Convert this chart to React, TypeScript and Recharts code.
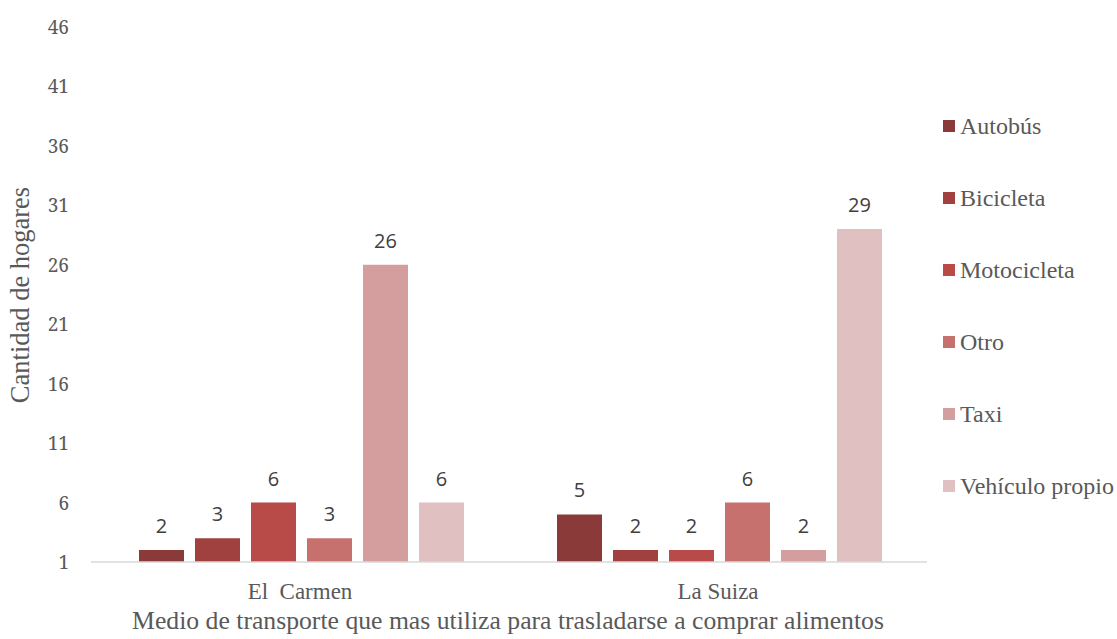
import { Bar, BarChart, LabelList, XAxis, YAxis } from 'recharts';

const categories = ['El  Carmen', 'La Suiza'];
const seriesNames = ['Autobús', 'Bicicleta', 'Motocicleta', 'Otro', 'Taxi', 'Vehículo propio'];
const autobus = [2, 5];
const bicicleta = [3, 2];
const motocicleta = [6, 2];
const otro = [3, 6];
const taxi = [26, 2];
const vehiculo = [6, 29];
const yTicks = [1, 6, 11, 16, 21, 26, 31, 36, 41, 46];

const colors = ['#8B3A3A', '#A0413F', '#B84A48', '#C6716E', '#D49E9E', '#E0C0C1'];
const keys = ['autobus', 'bicicleta', 'motocicleta', 'otro', 'taxi', 'vehiculo'];
const seriesValues = [autobus, bicicleta, motocicleta, otro, taxi, vehiculo];

const data = categories.map((name, i) => {
  const row: Record<string, string | number> = { name };
  keys.forEach((k, j) => {
    row[k] = seriesValues[j][i];
  });
  return row;
});

const serif = '"Liberation Serif", "Times New Roman", serif';
const tickSerif = '"Noto Serif", serif';
const sans = '"Open Sans", sans-serif';

const XTick = (props: any) => (
  <text
    x={props.x}
    y={props.y + 35}
    textAnchor="middle"
    fill="#595959"
    style={{ fontFamily: serif, fontSize: 23, whiteSpace: 'pre' }}
  >
    {props.payload.value}
  </text>
);

const YTick = (props: any) => (
  <text
    x={props.x}
    y={props.y + 7}
    textAnchor="end"
    fill="#595959"
    style={{ fontFamily: tickSerif, fontSize: 19 }}
  >
    {props.payload.value}
  </text>
);

const ValueLabel = (props: any) => (
  <text
    x={props.x + props.width / 2}
    y={props.y - 17}
    textAnchor="middle"
    fill="#404040"
    style={{ fontFamily: sans, fontSize: 20 }}
  >
    {props.value}
  </text>
);

function LegendBox() {
  return (
    <div
      style={{
        position: 'absolute',
        left: 943,
        top: 90,
        fontFamily: serif,
        fontSize: 24,
        color: '#595959',
      }}
    >
      {seriesNames.map((n, i) => (
        <div key={n} style={{ height: 72, display: 'flex', alignItems: 'center', whiteSpace: 'nowrap' }}>
          <span style={{ width: 12, height: 12, background: colors[i], display: 'inline-block', marginRight: 5 }} />
          {n}
        </div>
      ))}
    </div>
  );
}

export default function App() {
  return (
    <div style={{ position: 'fixed', left: 0, top: 0, width: 1117, height: 639, background: '#fff', overflow: 'hidden' }}>
      <BarChart
        width={1117}
        height={639}
        data={data}
        margin={{ top: 27, right: 190, left: 0, bottom: 0 }}
        barCategoryGap={48}
        barGap={11}
      >
        <XAxis
          dataKey="name"
          height={77}
          tickLine={false}
          tickSize={0}
          axisLine={{ stroke: '#D9D9D9', strokeWidth: 1.5 }}
          tick={<XTick />}
        />
        <YAxis
          width={91}
          domain={[1, 46]}
          ticks={yTicks}
          interval={0}
          axisLine={false}
          tickLine={false}
          tickSize={0}
          tickMargin={22}
          tick={<YTick />}
        />
        {keys.map((k, i) => (
          <Bar key={k} dataKey={k} name={seriesNames[i]} fill={colors[i]} isAnimationActive={false}>
            <LabelList dataKey={k} content={<ValueLabel />} />
          </Bar>
        ))}
        <text
          x={508}
          y={629}
          textAnchor="middle"
          fill="#595959"
          style={{ fontFamily: serif, fontSize: 25.7 }}
        >
          Medio de transporte que mas utiliza para trasladarse a comprar alimentos
        </text>
        <text
          x={0}
          y={0}
          transform="translate(29 295) rotate(-90)"
          textAnchor="middle"
          fill="#595959"
          style={{ fontFamily: serif, fontSize: 26.5 }}
        >
          Cantidad de hogares
        </text>
      </BarChart>
      <LegendBox />
    </div>
  );
}
